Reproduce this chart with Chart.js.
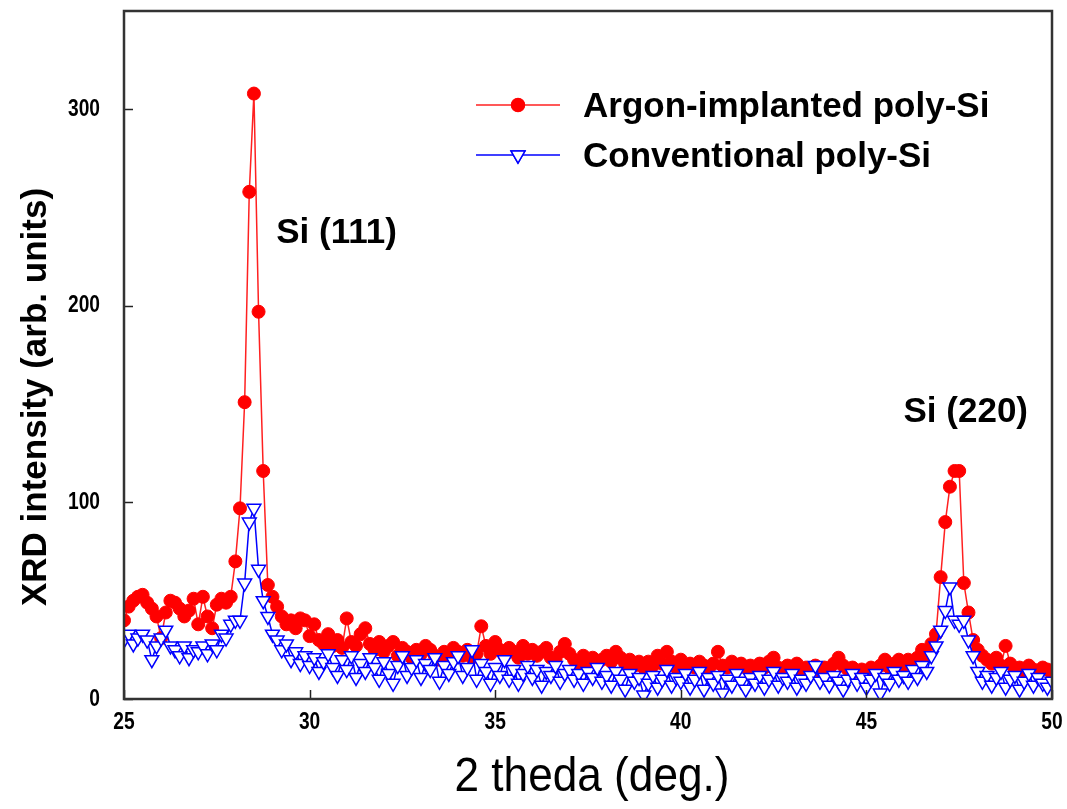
<!DOCTYPE html>
<html>
<head>
<meta charset="utf-8">
<script src="https://cdn.jsdelivr.net/npm/chart.js@4/dist/chart.umd.min.js"></script>
<style>
  html, body { margin: 0; padding: 0; background: #fff; }
  canvas { display: block; }
</style>
</head>
<body>
<canvas id="xrdChart" width="1067" height="809"></canvas>
<script>
// 2 theta values (deg.)
const twoTheta = [
  25, 25.125, 25.25, 25.375, 25.5, 25.625, 25.75, 25.875,
  26, 26.125, 26.25, 26.375, 26.5, 26.625, 26.75, 26.875,
  27, 27.125, 27.25, 27.375, 27.5, 27.625, 27.75, 27.875,
  28, 28.125, 28.25, 28.375, 28.5, 28.625, 28.75, 28.875,
  29, 29.125, 29.25, 29.375, 29.5, 29.625, 29.75, 29.875,
  30, 30.125, 30.25, 30.375, 30.5, 30.625, 30.75, 30.875,
  31, 31.125, 31.25, 31.375, 31.5, 31.625, 31.75, 31.875,
  32, 32.125, 32.25, 32.375, 32.5, 32.625, 32.75, 32.875,
  33, 33.125, 33.25, 33.375, 33.5, 33.625, 33.75, 33.875,
  34, 34.125, 34.25, 34.375, 34.5, 34.625, 34.75, 34.875,
  35, 35.125, 35.25, 35.375, 35.5, 35.625, 35.75, 35.875,
  36, 36.125, 36.25, 36.375, 36.5, 36.625, 36.75, 36.875,
  37, 37.125, 37.25, 37.375, 37.5, 37.625, 37.75, 37.875,
  38, 38.125, 38.25, 38.375, 38.5, 38.625, 38.75, 38.875,
  39, 39.125, 39.25, 39.375, 39.5, 39.625, 39.75, 39.875,
  40, 40.125, 40.25, 40.375, 40.5, 40.625, 40.75, 40.875,
  41, 41.125, 41.25, 41.375, 41.5, 41.625, 41.75, 41.875,
  42, 42.125, 42.25, 42.375, 42.5, 42.625, 42.75, 42.875,
  43, 43.125, 43.25, 43.375, 43.5, 43.625, 43.75, 43.875,
  44, 44.125, 44.25, 44.375, 44.5, 44.625, 44.75, 44.875,
  45, 45.125, 45.25, 45.375, 45.5, 45.625, 45.75, 45.875,
  46, 46.125, 46.25, 46.375, 46.5, 46.625, 46.75, 46.875,
  47, 47.125, 47.25, 47.375, 47.5, 47.625, 47.75, 47.875,
  48, 48.125, 48.25, 48.375, 48.5, 48.625, 48.75, 48.875,
  49, 49.125, 49.25, 49.375, 49.5, 49.625, 49.75, 49.875,
  50
];

// Argon-implanted poly-Si intensity
const argonSi = [
  40, 47, 50, 52, 53, 49, 46, 42,
  31, 44, 50, 49, 46, 42, 45, 51,
  38, 52, 42, 36, 48, 51, 49, 52,
  70, 97, 151, 258, 308, 197, 116, 58,
  52, 47, 42, 38, 40, 36, 41, 40,
  32, 38, 30, 28, 33, 27, 30, 26,
  41, 29, 27, 33, 36, 28, 25, 29,
  24, 27, 29, 22, 26, 24, 21, 25,
  23, 27, 25, 22, 20, 24, 22, 26,
  24, 22, 25, 21, 23, 37, 27, 23,
  29, 25, 22, 26, 24, 21, 27, 23,
  25, 22, 24, 26, 21, 20, 24, 28,
  23, 20, 18, 22, 19, 21, 18, 20,
  22, 19, 24, 21, 18, 20, 17, 19,
  16, 19, 17, 22, 18, 24, 19, 16,
  20, 15, 18, 16, 19, 17, 15, 18,
  24, 17, 16, 19, 15, 18, 16, 17,
  15, 18, 16, 19, 21, 16, 14, 17,
  15, 18, 14, 16, 15, 17, 14, 16,
  15, 18, 21, 17, 15, 16, 14, 15,
  14, 16, 15, 17, 20, 16, 18, 20,
  17, 20, 18, 21, 25, 22, 28, 33,
  62, 90, 108, 116, 116, 59, 44, 30,
  25, 22, 20, 18, 21, 17, 27, 18,
  15, 16, 14, 17, 15, 14, 16, 15,
  13
];

// Conventional poly-Si intensity
const conventionalSi = [
  30, 33, 28, 31, 33, 30, 20, 27,
  31, 35, 27, 25, 22, 27, 21, 25,
  24, 27, 23, 28, 25, 33, 31, 38,
  40, 40, 59, 90, 97, 66, 50, 42,
  33, 30, 25, 28, 20, 24, 18, 22,
  17, 21, 14, 19, 23, 16, 12, 20,
  15, 22, 11, 18, 14, 21, 16, 10,
  19, 13, 8, 17, 22, 12, 16, 20,
  11, 18, 15, 21, 9, 17, 13, 19,
  22, 12, 16, 25, 10, 18, 14, 8,
  16, 12, 20, 10, 15, 8, 13, 17,
  11, 15, 7, 14, 12, 17, 9, 13,
  15, 10, 13, 8, 14, 11, 16, 9,
  12, 7, 14, 10, 5, 13, 9, 11,
  2, 8, 12, 6, 10, 15, 7, 11,
  9, 13, 6, 10, 14, 5, 11, 8,
  12, 3, 10, 7, 13, 9, 5, 11,
  8, 12, 6, 10, 14, 7, 11, 9,
  13, 6, 10, 8, 12, 17, 9, 11,
  7, 12, 9, 5, 10, 13, 8, 11,
  6, 10, 13, 3, 11, 8, 14, 10,
  12, 9, 15, 11, 17, 14, 22, 27,
  35, 45, 57, 40, 38, 40, 30, 22,
  14, 9, 12, 7, 11, 14, 6, 10,
  12, 5, 9, 13, 7, 11, 8, 6,
  9
];

const xTicks = [25, 30, 35, 40, 45, 50];
const yTicks = [0, 100, 200, 300];
const xTitle = "2 theda (deg.)";
const yTitle = "XRD intensity (arb. units)";

// peak labels, anchored in data coordinates
const peakLabels = [
  { text: "Si (111)", x: 29.1, y: 237 },
  { text: "Si (220)", x: 46.0, y: 146 }
];

const fontFamily = '"Liberation Sans", Arial, sans-serif';

const toPoints = (ys) => ys.map((y, i) => ({ x: twoTheta[i], y: y }));

// narrow text like Arial Narrow, by squeezing Liberation Sans
const narrowText = (ctx, text, x, y, squeeze) => {
  ctx.save();
  ctx.translate(x, y);
  ctx.scale(squeeze, 1);
  ctx.fillText(text, 0, 0);
  ctx.restore();
};

// frame, inside ticks, tick labels, axis titles, legend and peak labels
const decorPlugin = {
  id: "decor",
  afterDatasetsDraw(chart) {
    const { ctx, chartArea: a, scales } = chart;
    ctx.save();

    // ticks pointing inward
    ctx.strokeStyle = "#222";
    ctx.lineWidth = 1.5;
    xTicks.forEach((v) => {
      const px = Math.round(scales.x.getPixelForValue(v)) + 0.5;
      ctx.beginPath();
      ctx.moveTo(px, a.bottom);
      ctx.lineTo(px, a.bottom - 9);
      ctx.stroke();
    });
    yTicks.forEach((v) => {
      const py = Math.round(scales.y.getPixelForValue(v)) + 0.5;
      ctx.beginPath();
      ctx.moveTo(a.left, py);
      ctx.lineTo(a.left + 9, py);
      ctx.stroke();
    });

    // box around the plot
    ctx.strokeStyle = "#333";
    ctx.lineWidth = 2.5;
    ctx.strokeRect(a.left, a.top, a.right - a.left, a.bottom - a.top);

    // tick labels
    ctx.fillStyle = "#000";
    ctx.font = "bold 24px " + fontFamily;
    ctx.textBaseline = "middle";
    ctx.textAlign = "center";
    xTicks.forEach((v) => {
      narrowText(ctx, String(v), scales.x.getPixelForValue(v), a.bottom + 23, 0.8);
    });
    ctx.textAlign = "right";
    yTicks.forEach((v) => {
      narrowText(ctx, String(v), a.left - 24, scales.y.getPixelForValue(v), 0.8);
    });

    // axis titles
    ctx.textAlign = "center";
    ctx.font = "48px " + fontFamily;
    narrowText(ctx, xTitle, (a.left + a.right) / 2 + 4, 778, 0.92);
    ctx.save();
    ctx.translate(36, 397);
    ctx.rotate(-Math.PI / 2);
    ctx.font = "bold 35px " + fontFamily;
    ctx.fillText(yTitle, 0, 0);
    ctx.restore();

    // peak labels
    ctx.font = "bold 35px " + fontFamily;
    ctx.textAlign = "left";
    peakLabels.forEach((p) => {
      ctx.fillText(p.text, scales.x.getPixelForValue(p.x), scales.y.getPixelForValue(p.y));
    });

    // legend
    const legendX = 476, legendY = 105, rowGap = 50, lineLen = 84;
    chart.data.datasets.slice().reverse().forEach((ds, i) => {
      const y = legendY + i * rowGap;
      ctx.strokeStyle = ds.borderColor;
      ctx.lineWidth = ds.borderWidth;
      ctx.beginPath();
      ctx.moveTo(legendX, y);
      ctx.lineTo(legendX + lineLen, y);
      ctx.stroke();
      Chart.helpers.drawPoint(ctx, {
        pointStyle: ds.pointStyle,
        rotation: ds.pointRotation || 0,
        radius: ds.pointRadius,
        borderWidth: ds.pointBorderWidth
      }, legendX + lineLen / 2, y);
      ctx.fillStyle = ds.pointBackgroundColor;
      ctx.strokeStyle = ds.pointBorderColor;
      ctx.lineWidth = ds.pointBorderWidth;
      ctx.fill();
      ctx.stroke();
      ctx.fillStyle = "#000";
      ctx.font = "bold 35px " + fontFamily;
      ctx.fillText(ds.label, legendX + lineLen + 23, y + 2);
    });

    ctx.restore();
  }
};

new Chart(document.getElementById("xrdChart"), {
  type: "line",
  data: {
    datasets: [
      {
        label: "Conventional poly-Si",
        data: toPoints(conventionalSi),
        borderColor: "#0000ff",
        borderWidth: 1.5,
        pointStyle: "triangle",
        pointRotation: 180,
        pointRadius: 8,
        pointBorderWidth: 1.5,
        pointBackgroundColor: "#ffffff",
        pointBorderColor: "#0000ff",
        order: 0
      },
      {
        label: "Argon-implanted poly-Si",
        data: toPoints(argonSi),
        borderColor: "#ff2020",
        borderWidth: 1.5,
        pointStyle: "circle",
        pointRadius: 6.5,
        pointBorderWidth: 1,
        pointBackgroundColor: "#ff0000",
        pointBorderColor: "#ff0000",
        order: 1
      }
    ]
  },
  options: {
    responsive: false,
    animation: false,
    devicePixelRatio: 1,
    layout: { padding: { top: 11, right: 15, left: 0, bottom: 0 } },
    plugins: {
      legend: { display: false },
      tooltip: { enabled: false }
    },
    scales: {
      x: {
        type: "linear",
        min: 25,
        max: 50,
        afterBuildTicks: (scale) => { scale.ticks = xTicks.map((v) => ({ value: v })); },
        afterFit: (scale) => {
          scale.height = 110;
          scale.paddingLeft = 0;
          scale.paddingRight = 0;
        },
        grid: { display: false },
        border: { display: false },
        ticks: { display: false }
      },
      y: {
        type: "linear",
        min: 0,
        max: 350,
        afterBuildTicks: (scale) => { scale.ticks = yTicks.map((v) => ({ value: v })); },
        afterFit: (scale) => {
          scale.width = 124;
          scale.paddingTop = 0;
          scale.paddingBottom = 0;
        },
        grid: { display: false },
        border: { display: false },
        ticks: { display: false }
      }
    }
  },
  plugins: [decorPlugin]
});
</script>
</body>
</html>
